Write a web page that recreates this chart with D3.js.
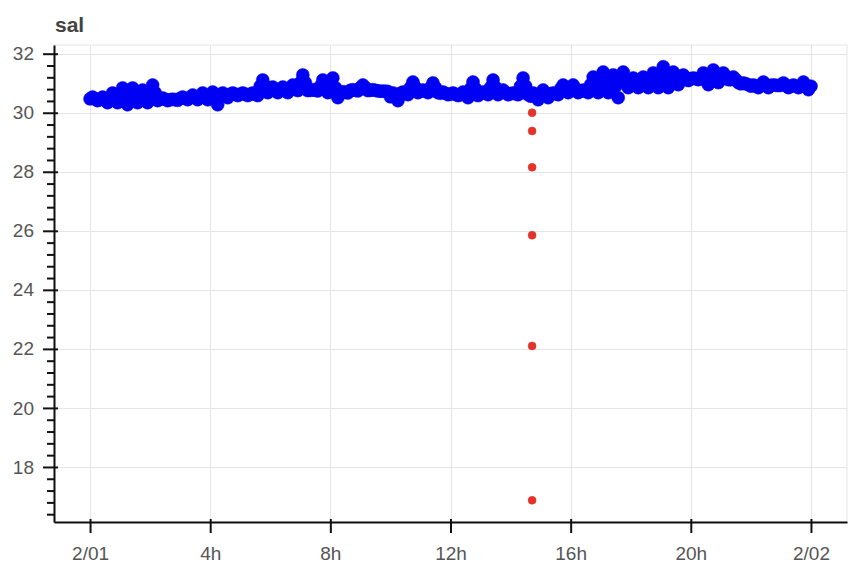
<!DOCTYPE html>
<html><head><meta charset="utf-8">
<script src="https://cdn.jsdelivr.net/npm/d3@7"></script>
<style>
body{margin:0;background:#fff}
text{font-family:Arial,"Liberation Sans",Helvetica,sans-serif}
</style>
</head><body>
<svg id="chart" width="858" height="570"></svg>
<script>
const chartTitle = "sal";
const startTime = "2017-02-01T00:00:00Z";
const stepMinutes = 5;
// salinity, one value every 5 minutes from 2/01 00:00 to 2/02 00:00
const salValues = [
30.47,30.53,30.47,30.41, 30.44,30.53,30.44,30.34, 30.50,30.67,30.50,30.34, 30.56,30.84,30.56,30.27,
30.59,30.84,30.59,30.34, 30.56,30.77,30.56,30.34, 30.68,30.94,30.68,30.41, 30.46,30.50,30.46,30.41,
30.44,30.46,30.44,30.42, 30.49,30.53,30.49,30.44, 30.52,30.60,30.52,30.44, 30.56,30.67,30.56,30.44,
30.49,30.70,30.49,30.27, 30.59,30.67,30.59,30.51, 30.63,30.67,30.63,30.58, 30.63,30.67,30.63,30.58,
30.63,30.67,30.63,30.58, 30.90,31.11,30.90,30.68, 30.78,30.87,30.78,30.68, 30.78,30.87,30.78,30.68,
30.85,30.94,30.85,30.75, 31.02,31.28,31.02,30.75, 30.76,30.78,30.76,30.74, 30.90,31.11,30.90,30.68,
30.85,31.18,30.85,30.51, 30.69,30.71,30.69,30.67, 30.76,30.78,30.76,30.74, 30.85,30.94,30.85,30.75,
30.76,30.78,30.76,30.74, 30.73,30.73,30.73,30.72, 30.54,30.67,30.54,30.41, 30.66,30.70,30.66,30.61,
30.86,31.04,30.86,30.68, 30.73,30.77,30.73,30.68, 30.85,31.01,30.85,30.68, 30.66,30.70,30.66,30.61,
30.63,30.67,30.63,30.58, 30.61,30.70,30.61,30.51, 30.81,31.04,30.81,30.58, 30.66,30.70,30.66,30.61,
30.86,31.11,30.86,30.61, 30.69,30.77,30.69,30.61, 30.64,30.67,30.64,30.61, 30.90,31.18,30.90,30.61,
30.56,30.67,30.56,30.44, 30.64,30.77,30.64,30.51, 30.64,30.67,30.64,30.61, 30.81,30.94,30.81,30.68,
30.81,30.94,30.81,30.68, 30.73,30.77,30.73,30.68, 30.95,31.21,30.95,30.68, 31.03,31.38,31.03,30.68,
30.90,31.28,30.90,30.51, 31.12,31.38,31.12,30.85, 31.02,31.18,31.02,30.85, 31.03,31.21,31.03,30.85,
31.10,31.35,31.10,30.85, 31.20,31.56,31.20,30.85, 31.17,31.38,31.17,30.95, 31.19,31.28,31.19,31.09,
31.15,31.18,31.15,31.12, 31.15,31.35,31.15,30.95, 31.24,31.45,31.24,31.02, 31.24,31.35,31.24,31.12,
31.12,31.21,31.12,31.02, 30.98,31.01,30.98,30.95, 30.90,30.94,30.90,30.85, 30.95,31.04,30.95,30.85,
30.93,30.94,30.93,30.92, 30.93,31.01,30.93,30.85, 30.90,30.94,30.90,30.85, 30.91,31.04,30.91,30.78,
30.90
];
// flagged (bad) samples
const flagTimes = ["2017-02-01T14:43:00Z","2017-02-01T14:43:00Z","2017-02-01T14:43:00Z",
                   "2017-02-01T14:43:00Z","2017-02-01T14:43:00Z","2017-02-01T14:43:00Z"];
const flagValues = [30.00, 29.38, 28.15, 25.85, 22.10, 16.87];

const xTickHours = [0, 4, 8, 12, 16, 20, 24];
const xTickLabels = ["2/01", "4h", "8h", "12h", "16h", "20h", "2/02"];
const yTickValues = [18, 20, 22, 24, 26, 28, 30, 32];
const yTickLabels = ["18", "20", "22", "24", "26", "28", "30", "32"];

const W = 858, H = 570;
const margin = {left: 54, right: 11, top: 45, bottom: 48};
const iw = W - margin.left - margin.right, ih = H - margin.top - margin.bottom;

const t0 = new Date(startTime).getTime();
const series = salValues.map((v, i) => ({t: new Date(t0 + i * stepMinutes * 60000), v}));
const flags = flagTimes.map((t, i) => ({t: new Date(t), v: flagValues[i]}));

const allT = series.map(d => d.t.getTime()).concat(flags.map(d => d.t.getTime()));
const allV = salValues.concat(flagValues);
const tMin = d3.min(allT), tMax = d3.max(allT);
const vMin = d3.min(allV), vMax = d3.max(allV);
const tPad = (tMax - tMin) * 0.05, vPad = (vMax - vMin) * 0.05;

const x = d3.scaleUtc().domain([new Date(tMin - tPad), new Date(tMax + tPad)]).range([0, iw]);
const y = d3.scaleLinear().domain([vMin - vPad, vMax + vPad]).range([ih, 0]);

const svg = d3.select("#chart");
svg.append("rect").attr("width", W).attr("height", H).attr("fill", "#fff");

svg.append("text").attr("x", 55).attr("y", 32)
  .attr("font-size", 21).attr("font-weight", "bold").attr("fill", "#444")
  .text(chartTitle);

const g = svg.append("g").attr("transform", `translate(${margin.left},${margin.top})`);

const xTickDates = xTickHours.map(h => new Date(t0 + h * 3600000));

// outline
g.append("rect").attr("x", 0).attr("y", 0).attr("width", iw).attr("height", ih)
  .attr("fill", "none").attr("stroke", "#e5e5e5").attr("stroke-width", 1);

// grid
g.append("g").selectAll("line").data(yTickValues).join("line")
  .attr("x1", 0).attr("x2", iw)
  .attr("y1", d => Math.round(y(d)) + 0.5).attr("y2", d => Math.round(y(d)) + 0.5)
  .attr("stroke", "#e5e5e5").attr("stroke-width", 1);
g.append("g").selectAll("line").data(xTickDates).join("line")
  .attr("y1", 0).attr("y2", ih)
  .attr("x1", d => Math.round(x(d)) + 0.5).attr("x2", d => Math.round(x(d)) + 0.5)
  .attr("stroke", "#e5e5e5").attr("stroke-width", 1);

// data
g.append("g").selectAll("circle").data(series).join("circle")
  .attr("cx", d => x(d.t)).attr("cy", d => y(d.v)).attr("r", 6.5)
  .attr("fill", "#0000f5").attr("stroke", "#0000f5").attr("stroke-width", 0.5);

g.append("g").selectAll("circle").data(flags).join("circle")
  .attr("cx", d => x(d.t)).attr("cy", d => y(d.v)).attr("r", 4)
  .attr("fill", "#e3342b").attr("stroke", "#e3342b").attr("stroke-width", 0.5);

// minor y ticks
const [d0, d1] = y.domain();
const minorY = d3.range(Math.ceil(d0 / 0.4) * 0.4, d1, 0.4)
  .map(v => Math.round(v * 10) / 10)
  .filter(v => !yTickValues.includes(v));
g.append("g").call(d3.axisLeft(y).tickValues(minorY).tickSize(7).tickSizeOuter(0).tickFormat(""))
  .call(a => a.select(".domain").remove())
  .call(a => a.selectAll("line").attr("stroke", "#111").attr("stroke-width", 2));

// y axis
const yAxis = g.append("g").call(
  d3.axisLeft(y).tickValues(yTickValues).tickSize(11).tickSizeOuter(0).tickPadding(9)
    .tickFormat((d, i) => yTickLabels[i]));
yAxis.select(".domain").attr("stroke", "#111").attr("stroke-width", 2);
yAxis.selectAll("line").attr("stroke", "#111").attr("stroke-width", 2).attr("x1", 4);
yAxis.selectAll("text").attr("font-size", 19).attr("fill", "#555");

// x axis
const xAxis = g.append("g").attr("transform", `translate(0,${ih})`).call(
  d3.axisBottom(x).tickValues(xTickDates).tickSize(11).tickSizeOuter(0).tickPadding(14)
    .tickFormat((d, i) => xTickLabels[i]));
xAxis.select(".domain").attr("stroke", "#111").attr("stroke-width", 2);
xAxis.selectAll("line").attr("stroke", "#111").attr("stroke-width", 2).attr("y1", -3);
xAxis.selectAll("text").attr("font-size", 19).attr("fill", "#555");
</script>
</body></html>
